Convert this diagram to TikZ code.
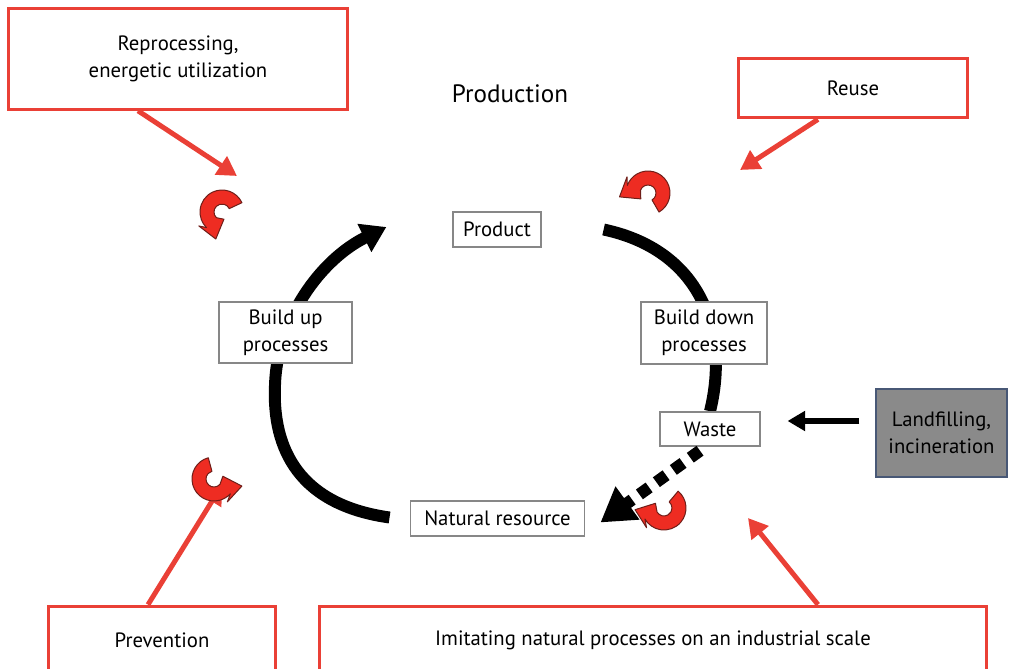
\documentclass[tikz,border=0pt]{standalone}
\usepackage{fontspec}
\setmainfont{PT Sans}
\usetikzlibrary{arrows.meta,calc}
\definecolor{boxred}{RGB}{234,64,54}
\definecolor{turnred}{RGB}{238,44,34}
\definecolor{turnedge}{RGB}{110,30,25}
\definecolor{framegray}{RGB}{135,135,135}
\definecolor{fillgray}{RGB}{138,138,138}
\definecolor{lfedge}{RGB}{72,88,118}
\newdimen\pxu \pxu=0.5669pt
\pgfdeclarelayer{bg}
\pgfsetlayers{bg,main}

% curved red turn arrow: centre x, centre y, mid radius, start angle, end angle, head tilt, mirror (1/-1)
\newcommand\redturn[7]{%
  \begin{scope}[shift={(#1,#2)},yscale=-1,xscale=#7]
    \filldraw[turnarrow]
      ({#4}:{#3+7}) arc[start angle={#4}, end angle={#5}, radius={#3+7}]
      -- ($({#5}:{#3})+({#5-(#6)}:13)$)
      -- ($({#5}:{#3})+({#5+90-(#6)}:17)$)
      -- ($({#5}:{#3})-({#5-(#6)}:13)$)
      -- ({#5}:{#3-7}) arc[start angle={#5}, end angle={#4}, radius={#3-7}]
      -- cycle;
  \end{scope}}

\begin{document}
\begin{tikzpicture}[x=0.02cm,y=-0.02cm,
  bodyfont/.style={font=\fontsize{11.8pt}{15.3pt}\selectfont},
  redbox/.style={draw=boxred,line width=3\pxu,fill=white,align=center,inner sep=0pt,bodyfont},
  smallbox/.style={draw=framegray,line width=1.6\pxu,fill=white,align=center,inner sep=0pt,bodyfont},
  grayblock/.style={draw=lfedge,line width=2\pxu,fill=fillgray,align=center,inner sep=0pt,bodyfont},
  cyclearc/.style={line width=12\pxu},
  redlink/.style={draw=boxred,line width=5\pxu,-{Triangle[length=11pt,width=12pt]}},
  turnarrow/.style={fill=turnred,draw=turnedge,line width=1\pxu,line join=round}]
\useasboundingbox (0,0) rectangle (1009,669);
\clip (0,0) rectangle (1009,669);

% outer boxes
\node[redbox,minimum width=340\pxu,minimum height=101\pxu] (reproc) at (178,59) {Reprocessing,\\energetic utilization};
\node[redbox,minimum width=230\pxu,minimum height=60\pxu] (reuse) at (853,88) {Reuse};
\node[grayblock,minimum width=131\pxu,minimum height=88\pxu] (landfill) at (941.5,433) {Landfilling,\\incineration};
\node[redbox,minimum width=228\pxu,minimum height=68\pxu] (prevent) at (162,640) {Prevention};
\node[redbox,minimum width=670\pxu,minimum height=68\pxu] (imitate) at (653,640) {Imitating natural processes on an industrial scale};

\node[font=\fontsize{14.3pt}{17pt}\selectfont] (production) at (510,94) {Production};

% cycle stations
\node[smallbox,minimum width=88\pxu,minimum height=35\pxu] (product) at (497,229.5) {Product};
\node[smallbox,minimum width=133\pxu,minimum height=61\pxu] (buildup) at (285.5,332.5) {Build up\\processes};
\node[smallbox,minimum width=126\pxu,minimum height=62\pxu] (builddown) at (704,333) {Build down\\processes};
\node[smallbox,minimum width=100\pxu,minimum height=34\pxu] (waste) at (710,429) {Waste};
\node[smallbox,minimum width=175\pxu,minimum height=35\pxu] (natres) at (497.5,518.5) {Natural resource};

% black cycle arcs behind the stations
\begin{pgfonlayer}{bg}
  \draw[cyclearc,-{Triangle[length=14pt,width=17pt]}]
    ($(natres.west)+(-20,-1)$) .. controls (300,505) and (272,450) .. (275,385)
    .. controls (277,320) and (320,260) .. ($(product.west)+(-66,-2.5)$);
  \draw[cyclearc] ($(product.east)+(62,0)$) .. controls (700,250) and (730,330) .. (waste.north);
\end{pgfonlayer}

% dotted return from waste to natural resource
\draw[cyclearc,dash pattern=on 12\pxu off 9\pxu,-{Triangle[length=19pt,width=22pt]}]
  ($(waste.south)+(-10,4)$) -- ($(natres.east)+(15,4)$);

% landfilling feeding waste
\draw[line width=7\pxu,-{Triangle[length=10pt,width=11pt]}]
  ($(landfill.west)+(-16,-12)$) -- ($(waste.east)+(27,-8)$);

% red links from the strategy boxes
\draw[redlink] ($(reproc.south)+(-40,0)$) -- (237,176);
\draw[redlink] ($(reuse.south)+(-35,0)$) -- (740,170);
\draw[redlink] ($(prevent.north)+(-14,0)$) -- (222,485);
\draw[redlink] ($(imitate.north)+(165,0)$) -- (748,518);

% red turn arrows
\redturn{222}{212}{15}{25}{225}{30}{1}
\redturn{648}{193}{15}{-60}{160}{38}{1}
\redturn{214}{479}{15}{105}{318}{38}{1}
\redturn{664}{508}{15}{130}{330}{40}{-1}
\end{tikzpicture}
\end{document}
